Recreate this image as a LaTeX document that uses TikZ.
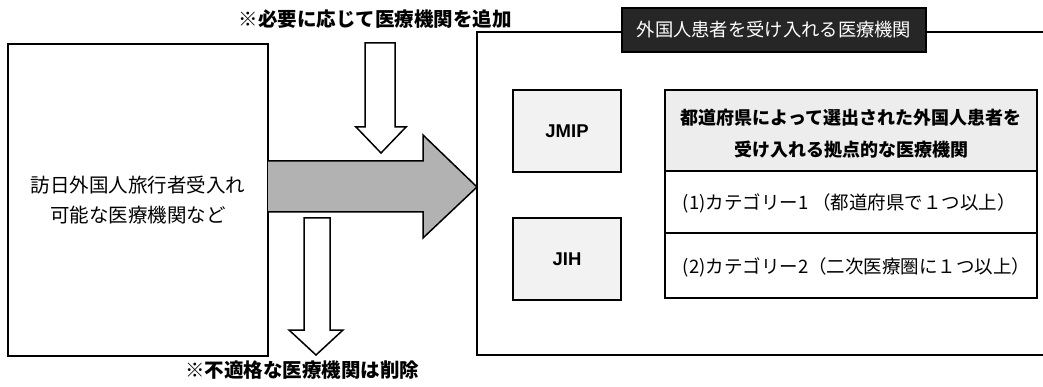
\documentclass[tikz,border=0pt]{standalone}
\usepackage{fontspec}
\setmainfont{Noto Sans CJK JP}
\newfontfamily\latinf{Liberation Sans}
\begin{document}
\begin{tikzpicture}[x=1pt,y=-1pt,line width=1.5pt,line join=miter,
  box/.style={draw=black,rectangle,inner sep=0pt,outer sep=0pt},
  grayfill/.style={fill=black!5},
  blockarrow/.style={draw=black,line width=1.5pt,line join=miter},
  note/.style={font=\fontsize{19.5}{22}\selectfont\bfseries,inner sep=0pt},
  rowtext/.style={font=\fontsize{18.5}{22}\selectfont,inner sep=0pt,anchor=west}]
\useasboundingbox (0,0) rectangle (1043,387);
\clip (0,0) rectangle (1043,387);
\fill[white] (0,0) rectangle (1043,387);

% left box
\node[box,minimum width=260pt,minimum height=312pt] (src) at (138,200) {};
\node[inner sep=0pt,align=center,font=\fontsize{19.5}{30}\selectfont] (srct) at (138,200)
  {訪日外国人旅行者受入れ\\可能な医療機関など};

% outer right box
\node[box,minimum width=573pt,minimum height=323pt] (dst) at (763.5,193.5) {};
\node[box,fill=black!85,text=white,minimum width=304pt,minimum height=44pt,
  font=\fontsize{18.3}{22}\selectfont] (title) at (774,30) {外国人患者を受け入れる医療機関};

% JMIP / JIH
\node[box,grayfill,minimum width=108pt,minimum height=82pt,
  font=\latinf\bfseries\fontsize{18.5}{20}\selectfont] (jmip) at (567,131) {JMIP};
\node[box,grayfill,minimum width=108pt,minimum height=82pt,
  font=\latinf\bfseries\fontsize{18.5}{20}\selectfont] (jih) at (567,259) {JIH};

% table
\node[box,fill=black!7,minimum width=372pt,minimum height=81pt] (r1) at (851,130.5) {};
\node[box,minimum width=372pt,minimum height=62pt] (r2) at (851,202) {};
\node[box,minimum width=372pt,minimum height=65pt] (r3) at (851,265.5) {};
\node[inner sep=0pt,align=center,font=\fontsize{18}{32}\selectfont\bfseries] (r1t) at (851,134)
  {都道府県によって選出された外国人患者を\\受け入れる拠点的な医療機関};
\node[rowtext] (r2t) at (682,203) {(1)カテゴリー1\ （都道府県で１つ以上）};
\node[rowtext] (r3t) at (682,267) {(2)カテゴリー2（二次医療圏に１つ以上）};

% big arrow
\draw[blockarrow,fill=black!30] (268,161) -- (423,161) -- (423,135) -- (477,187)
  -- (423,238) -- (423,212) -- (268,212);
% add arrow
\draw[blockarrow,fill=white] (365,43) -- (395,43) -- (395,127) -- (406,127) -- (381,153)
  -- (356,127) -- (365,127) -- cycle;
% remove arrow
\draw[blockarrow,fill=white] (304,218) -- (330,218) -- (330,330) -- (343,330) -- (316,355)
  -- (289,330) -- (304,330) -- cycle;

\node[note] (addt) at (375,19.5) {※必要に応じて医療機関を追加};
\node[note] (delt) at (302,370) {※不適格な医療機関は削除};
\end{tikzpicture}
\end{document}
